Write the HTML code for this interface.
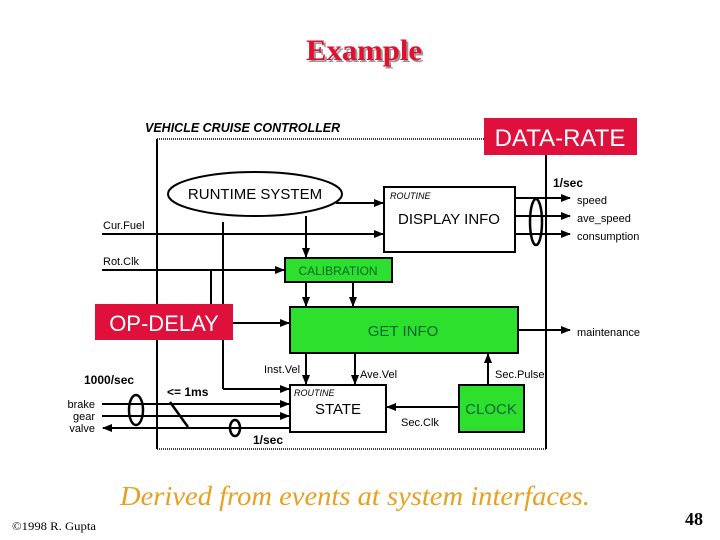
<!DOCTYPE html>
<html><head><meta charset="utf-8"><style>
html,body{margin:0;padding:0;background:#fff;width:720px;height:540px;overflow:hidden}
svg{display:block}
.s{font-family:"Liberation Sans",sans-serif}
</style></head><body>
<svg width="720" height="540" viewBox="0 0 720 540" xmlns="http://www.w3.org/2000/svg">
<defs>
<marker id="a" markerWidth="10" markerHeight="8" refX="9" refY="4" orient="auto" markerUnits="userSpaceOnUse"><path d="M0,0 L10,4 L0,8 z" fill="#000"/></marker>
</defs>
<!-- title -->
<text x="366" y="62" font-family="Liberation Serif,serif" font-weight="bold" font-size="30" fill="#999" text-anchor="middle" textLength="116" lengthAdjust="spacingAndGlyphs">Example</text>
<text x="364" y="60" font-family="Liberation Serif,serif" font-weight="bold" font-size="30" fill="#e0102e" text-anchor="middle" textLength="116" lengthAdjust="spacingAndGlyphs">Example</text>

<g class="s" stroke="#000" stroke-width="2" fill="none">
<!-- boundary -->
<line x1="157" y1="139" x2="484" y2="139" stroke-width="1.5" stroke-dasharray="1,1"/>
<line x1="157" y1="449" x2="546" y2="449" stroke-width="1.5" stroke-dasharray="1,1"/>
<line x1="157" y1="139" x2="157" y2="449"/>
<line x1="546" y1="155" x2="546" y2="449"/>
<!-- ellipse -->
<ellipse cx="255" cy="194" rx="87" ry="22"/>
<!-- display info -->
<rect x="384" y="187" width="131" height="65" fill="#fff"/>
<line x1="336" y1="203" x2="383" y2="203" marker-end="url(#a)"/>
<line x1="102" y1="234" x2="383" y2="234" marker-end="url(#a)"/>
<line x1="102" y1="270" x2="284" y2="270" marker-end="url(#a)"/>
<line x1="515" y1="198" x2="570" y2="198" marker-end="url(#a)"/>
<line x1="515" y1="216" x2="570" y2="216" marker-end="url(#a)"/>
<line x1="515" y1="234" x2="570" y2="234" marker-end="url(#a)"/>
<ellipse cx="536" cy="222" rx="6" ry="23" stroke-width="2.5"/>
<!-- verticals -->
<line x1="306" y1="216" x2="306" y2="257" marker-end="url(#a)"/>
<line x1="223" y1="222" x2="223" y2="304"/>
<line x1="211" y1="270" x2="211" y2="304"/>
<line x1="223" y1="340" x2="223" y2="389"/>
<line x1="223" y1="389" x2="289" y2="389" marker-end="url(#a)"/>
<line x1="306" y1="282" x2="306" y2="306" marker-end="url(#a)"/>
<line x1="353" y1="282" x2="353" y2="306" marker-end="url(#a)"/>
<!-- calibration -->
<rect x="285" y="258" width="107" height="24" fill="#2ee02e"/>
<!-- op delay arrow -->
<line x1="233" y1="323" x2="289" y2="323" marker-end="url(#a)"/>
<!-- get info -->
<rect x="290" y="307" width="228" height="46" fill="#2ee02e"/>
<line x1="518" y1="330" x2="570" y2="330" marker-end="url(#a)"/>
<line x1="306" y1="353" x2="306" y2="384" marker-end="url(#a)"/>
<line x1="355" y1="353" x2="355" y2="384" marker-end="url(#a)"/>
<!-- state -->
<rect x="290" y="385" width="96" height="47" fill="#fff"/>
<rect x="459" y="385" width="65" height="47" fill="#2ee02e"/>
<line x1="488" y1="385" x2="488" y2="354" marker-end="url(#a)"/>
<line x1="459" y1="407" x2="387" y2="407" marker-end="url(#a)"/>
<line x1="102" y1="404" x2="289" y2="404" marker-end="url(#a)"/>
<line x1="102" y1="416" x2="289" y2="416" marker-end="url(#a)"/>
<line x1="290" y1="428" x2="103" y2="428" marker-end="url(#a)"/>
<ellipse cx="136" cy="410" rx="7" ry="15" stroke-width="2.5"/>
<line x1="170" y1="402" x2="188" y2="427" stroke-width="2.5"/>
<ellipse cx="235" cy="428" rx="5" ry="8" stroke-width="2.5"/>
</g>
<!-- red boxes -->
<rect x="484" y="118" width="153" height="37" fill="#e0103c"/>
<text x="560" y="146" class="s" font-size="24" fill="#fff" text-anchor="middle">DATA-RATE</text>
<rect x="95" y="304" width="138" height="36" fill="#e0103c"/>
<text x="164" y="331" class="s" font-size="22" fill="#fff" text-anchor="middle">OP-DELAY</text>

<g class="s" fill="#000">
<text x="145" y="132" font-size="12.5" font-weight="bold" font-style="italic">VEHICLE CRUISE CONTROLLER</text>
<text x="255" y="199" font-size="15" text-anchor="middle">RUNTIME SYSTEM</text>
<text x="390" y="199" font-size="9" font-style="italic">ROUTINE</text>
<text x="449" y="224" font-size="15" text-anchor="middle">DISPLAY INFO</text>
<text x="103" y="229" font-size="11">Cur.Fuel</text>
<text x="103" y="265" font-size="11">Rot.Clk</text>
<text x="338" y="275" font-size="12" text-anchor="middle" fill="#063">CALIBRATION</text>
<text x="553" y="187" font-size="12" font-weight="bold">1/sec</text>
<text x="577" y="204" font-size="11">speed</text>
<text x="577" y="222" font-size="11">ave_speed</text>
<text x="577" y="240" font-size="11">consumption</text>
<text x="403" y="336" font-size="15" text-anchor="middle" fill="#063">GET INFO</text>
<text x="577" y="336" font-size="11">maintenance</text>
<text x="264" y="373" font-size="11">Inst.Vel</text>
<text x="360" y="378" font-size="11">Ave.Vel</text>
<text x="495" y="378" font-size="11">Sec.Pulse</text>
<text x="294" y="396" font-size="9" font-style="italic">ROUTINE</text>
<text x="338" y="414" font-size="15" text-anchor="middle">STATE</text>
<text x="491" y="414" font-size="15" text-anchor="middle" fill="#063">CLOCK</text>
<text x="401" y="426" font-size="11">Sec.Clk</text>
<text x="84" y="384" font-size="12" font-weight="bold">1000/sec</text>
<text x="167" y="396" font-size="12" font-weight="bold">&lt;= 1ms</text>
<text x="253" y="444" font-size="12" font-weight="bold">1/sec</text>
<text x="95" y="408" font-size="11" text-anchor="end">brake</text>
<text x="95" y="420" font-size="11" text-anchor="end">gear</text>
<text x="95" y="432" font-size="11" text-anchor="end">valve</text>
</g>
<text x="120" y="505" font-family="Liberation Serif,serif" font-style="italic" font-size="27" fill="#e8a020" textLength="470" lengthAdjust="spacingAndGlyphs">Derived from events at system interfaces.</text>
<text x="12" y="530" font-family="Liberation Serif,serif" font-size="12" fill="#000" textLength="84" lengthAdjust="spacingAndGlyphs">©1998 R. Gupta</text>
<text x="703" y="525" font-family="Liberation Serif,serif" font-weight="bold" font-size="18" fill="#000" text-anchor="end">48</text>
</svg>
</body></html>
